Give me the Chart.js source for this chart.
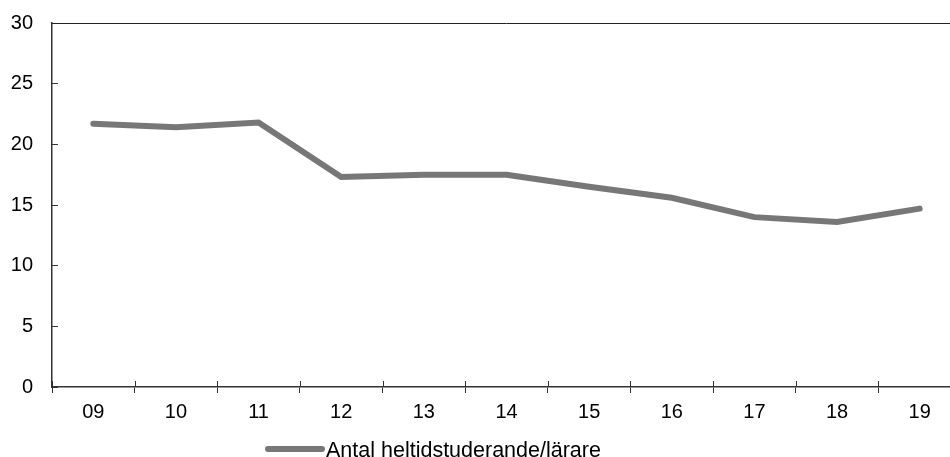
<!DOCTYPE html>
<html lang="sv">
<head>
<meta charset="UTF-8">
<title>Antal heltidsstuderande per lärare</title>
<script src="https://cdn.jsdelivr.net/npm/chart.js"></script>
<style>
  html, body { margin: 0; padding: 0; background: #fff; overflow: hidden; }
  /* plot area runs a little past the right edge of the window, as in the original */
  #wrap { width: 961px; height: 457px; }
</style>
</head>
<body>
<div id="wrap"><canvas id="chart"></canvas></div>
<script>
// data
const years = ['09', '10', '11', '12', '13', '14', '15', '16', '17', '18', '19'];
const studentsPerTeacher = [21.7, 21.4, 21.8, 17.3, 17.5, 17.5, 16.5, 15.6, 14.0, 13.6, 14.7];
const seriesLabel = 'Antal heltidstuderande/lärare';
const yTicks = [0, 5, 10, 15, 20, 25, 30];

const lineColor = '#777777';
const axisColor = '#333333';
const font = { family: 'Liberation Sans, Arial, sans-serif', size: 20 };

// axis bits Chart.js does not draw itself: top border, inner half of x ticks, legend
const extras = {
  id: 'extras',
  afterDraw(chart) {
    const ctx = chart.ctx;
    const area = chart.chartArea;
    const x = chart.scales.x;
    ctx.save();
    ctx.strokeStyle = '#222';
    ctx.lineWidth = 1;
    ctx.beginPath();
    ctx.moveTo(area.left, area.top + 0.5);
    ctx.lineTo(area.right, area.top + 0.5);
    ctx.stroke();

    ctx.strokeStyle = axisColor;
    for (let i = 0; i <= years.length; i++) {
      const px = Math.round(x.getPixelForValue(i - 0.5)) + 0.5;
      ctx.beginPath();
      ctx.moveTo(px, area.bottom);
      ctx.lineTo(px, area.bottom - 6);
      ctx.stroke();
    }

    // legend
    const ly = 449;
    ctx.strokeStyle = lineColor;
    ctx.lineWidth = 6;
    ctx.lineCap = 'round';
    ctx.beginPath();
    ctx.moveTo(268, ly);
    ctx.lineTo(322, ly);
    ctx.stroke();
    ctx.fillStyle = '#000';
    ctx.font = '21.5px ' + font.family;
    ctx.textAlign = 'left';
    ctx.textBaseline = 'alphabetic';
    ctx.fillText(chart.data.datasets[0].label, 326, 457);
    ctx.restore();
  }
};

new Chart(document.getElementById('chart'), {
  type: 'line',
  data: {
    labels: years,
    datasets: [{
      label: seriesLabel,
      data: studentsPerTeacher,
      borderColor: lineColor,
      backgroundColor: lineColor,
      borderWidth: 6,
      borderCapStyle: 'round',
      pointRadius: 0,
      tension: 0,
      fill: false
    }]
  },
  options: {
    responsive: true,
    maintainAspectRatio: false,
    animation: false,
    layout: { padding: { top: 23, right: 0, bottom: 30, left: 0 } },
    plugins: {
      legend: { display: false },
      tooltip: { enabled: false }
    },
    scales: {
      x: {
        offset: true,
        grid: {
          offset: true,
          drawOnChartArea: false,
          drawTicks: true,
          tickLength: 6,
          color: axisColor
        },
        border: { color: axisColor, width: 1.5 },
        ticks: { color: '#000', font: font, padding: 7, maxRotation: 0 },
        afterFit(scale) { scale.height = 40; }
      },
      y: {
        min: 0,
        max: 30,
        afterBuildTicks(scale) { scale.ticks = yTicks.map(v => ({ value: v })); },
        grid: {
          drawOnChartArea: false,
          drawTicks: true,
          tickLength: -6,
          color: axisColor
        },
        border: { color: axisColor, width: 1.5 },
        ticks: { color: '#000', font: font, padding: 25 },
        afterFit(scale) {
          scale.width = 52;
          scale.paddingTop = 12;
          scale.paddingBottom = 12;
        }
      }
    }
  },
  plugins: [extras]
});
</script>
</body>
</html>
